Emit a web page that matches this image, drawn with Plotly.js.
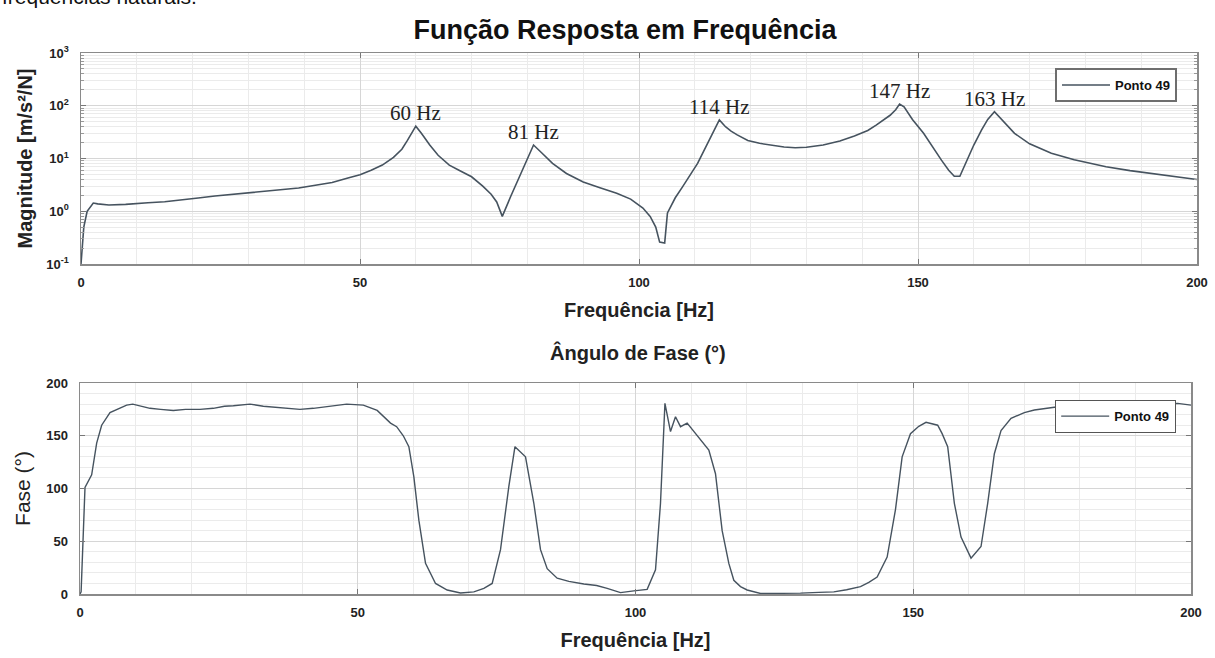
<!DOCTYPE html>
<html>
<head>
<meta charset="utf-8">
<script src="https://cdn.plot.ly/plotly-3.0.1.min.js"></script>
<style>html,body{margin:0;padding:0;background:#fff;}#chart{width:1215px;height:658px;}</style>
</head>
<body>
<div id="chart"></div>
<script>
// ---- Data ----
const seriesName = 'Ponto 49';

const magFreq = [0, 0.5, 1.1, 2.2, 3.0, 5, 8, 10, 12, 15, 18, 21, 24, 27, 30, 33, 36, 39, 42, 45, 48, 50, 52, 54, 56, 57.5, 58.5, 59.5, 60, 61, 62.5, 64, 66, 68, 70, 72, 73.5, 74.5, 75.5, 77, 78.5, 80, 81.1, 82.5, 84.5, 87, 90, 93, 96, 98.5, 100.7, 102, 103, 103.7, 104.6, 105.1, 106.5, 107.8, 109, 110.5, 112, 113.5, 114.4, 115.5, 116.5, 117.6, 119.5, 121.6, 124, 126, 128, 130, 133, 136, 138.6, 141, 142.5, 144, 145, 146, 146.7, 147.5, 149, 151, 152.5, 154.2, 155.5, 156.5, 157.5, 158.8, 160, 161.4, 162.5, 163.7, 165, 167.3, 170, 173.9, 178, 183.7, 188, 193.5, 200];
const magVal = [0.1, 0.5, 1.0, 1.43, 1.38, 1.31, 1.35, 1.38, 1.45, 1.51, 1.62, 1.78, 1.95, 2.1, 2.25, 2.4, 2.6, 2.75, 3.1, 3.5, 4.3, 4.9, 6.0, 7.5, 10.5, 15, 22, 33, 41, 30, 18, 11.5, 7.5, 5.8, 4.5, 3.0, 2.1, 1.5, 0.8, 1.9, 4.3, 9.8, 18, 13, 8.1, 5.2, 3.6, 2.8, 2.2, 1.7, 1.15, 0.8, 0.5, 0.26, 0.25, 0.93, 1.8, 2.9, 4.6, 8.1, 16.8, 35, 54, 40, 33, 28, 22, 19.4, 17.5, 16.5, 16, 16.3, 18, 21.5, 26.7, 34, 43, 55, 66, 84, 108, 95, 55, 30, 17, 9.3, 6, 4.6, 4.6, 9.3, 18, 35, 55, 77, 55, 30, 19, 12.6, 9.5, 7, 5.9, 4.9, 4.0];

const phaseFreq = [0, 0.2, 0.9, 2.1, 3, 3.9, 5.4, 7, 8.4, 9.5, 11, 12.6, 14.5, 16.8, 19, 21.6, 24, 26, 27.6, 30.6, 33, 36.6, 39.6, 42, 45, 48, 51, 53.5, 55.9, 57, 58.2, 59.2, 60.1, 61, 62.2, 64, 66.1, 68.5, 70.9, 72.7, 74.2, 75.7, 77.2, 78.3, 80.2, 81.7, 82.9, 84.1, 85.9, 88, 90.7, 93, 94.9, 97.3, 99.7, 102.1, 103.6, 104.5, 105.3, 106.3, 107.2, 108.1, 109.3, 111.1, 113.2, 114.4, 114.9, 115.6, 116.8, 117.7, 118.9, 120.1, 122.5, 126, 129.7, 133, 135.7, 138, 140.5, 142, 143.5, 145.3, 146.8, 148, 149.5, 151, 152.3, 154.4, 155.2, 156.2, 157.4, 158.6, 160.4, 162.2, 163.4, 164.6, 165.8, 167.6, 170, 171.8, 175.4, 180, 185, 190, 195, 197.6, 200];
const phaseVal = [0, 2, 101, 113, 143, 160, 172, 176, 179, 180, 178, 176, 175, 174, 175, 175, 176, 178, 178.5, 180, 178, 176, 175, 176, 178, 180, 179, 174, 162, 158.6, 150, 139.6, 111, 70, 29, 10, 3.8, 1, 2, 5.4, 10, 42, 102, 139.6, 130, 86, 42, 24, 15, 12, 9.5, 8, 5.4, 1.3, 3, 4.4, 23, 86, 180.7, 154, 168, 158.6, 162, 150.7, 136.5, 114, 92, 60, 29, 13, 7, 3.8, 0.5, 0.5, 0.8, 1.5, 2, 4, 7, 11, 16, 35, 80, 130, 152, 159, 162.7, 160, 152, 139.6, 86, 54, 34, 45, 86, 133, 155, 166.5, 172, 174.4, 177, 178, 178, 179, 180, 180.7, 179];

const peakFreqs = [60, 81.1, 114.4, 146.7, 163.7];
const peakLabels = ['60 Hz', '81 Hz', '114 Hz', '147 Hz', '163 Hz'];

const xTicks = [0, 50, 100, 150, 200];
const magTickVals = [0.1, 1, 10, 100, 1000];
const magTickText = ['10<sup>-1</sup>', '10<sup>0</sup>', '10<sup>1</sup>', '10<sup>2</sup>', '10<sup>3</sup>'];
const phaseTicks = [0, 50, 100, 150, 200];

// ---- Styles ----
const W = 1215, H = 658;
const lineColor = '#46535f';
const sans = 'Liberation Sans, Arial, sans-serif';
const tickFont = {family: sans, size: 13, color: '#222', weight: 'bold'};
const frame = {showline: true, mirror: 'ticks', linecolor: '#8a8a8a', linewidth: 1.5,
  ticks: 'inside', ticklen: 5, tickcolor: '#777', tickwidth: 1, zeroline: false,
  gridcolor: '#d6d6d6', gridwidth: 1, tickfont: tickFont, automargin: false};

function px(v) { return v / W; }
function py(v) { return 1 - v / H; }

const traces = [
  {x: magFreq, y: magVal, type: 'scatter', mode: 'lines', name: seriesName,
   line: {color: lineColor, width: 1.6}, xaxis: 'x', yaxis: 'y', legend: 'legend'},
  {x: phaseFreq, y: phaseVal, type: 'scatter', mode: 'lines', name: seriesName,
   line: {color: lineColor, width: 1.4}, xaxis: 'x2', yaxis: 'y2', legend: 'legend2'}
];

const peakAnn = peakFreqs.map((f, i) => {
  const idx = magFreq.indexOf(f);
  return {x: f, y: Math.log10(magVal[idx]), xref: 'x', yref: 'y', text: peakLabels[i],
    showarrow: false, xanchor: 'center', yanchor: 'bottom', yshift: -1,
    font: {family: 'Liberation Serif, Times New Roman, serif', size: 21, color: '#222'}};
});

const layout = {
  width: W, height: H,
  margin: {l: 0, r: 0, t: 0, b: 0},
  paper_bgcolor: '#fff', plot_bgcolor: '#fff',
  showlegend: true,
  title: {text: '<b>Função Resposta em Frequência</b>', x: px(625), y: py(30),
    xanchor: 'center', yanchor: 'middle', xref: 'paper', yref: 'paper',
    font: {family: sans, size: 27, color: '#111'}},
  xaxis: Object.assign({}, frame, {domain: [px(81), px(1197)], range: [0, 200],
    tickvals: xTicks, anchor: 'y', ticklabelstandoff: 6,
    minor: {dtick: 10, showgrid: true, gridcolor: '#ebebeb', ticks: ''},
    title: {text: '<b>Frequência [Hz]</b>', standoff: 14, font: {family: sans, size: 20, color: '#222'}}}),
  yaxis: Object.assign({}, frame, {domain: [py(264), py(53)], type: 'log', range: [-1, 3],
    tickvals: magTickVals, ticktext: magTickText, anchor: 'x', ticklabelstandoff: 8,
    minor: {dtick: 'D1', showgrid: true, gridcolor: '#ebebeb', ticks: 'inside', ticklen: 3, tickcolor: '#999'},
    title: {text: '<b>Magnitude [m/s²/N]</b>', standoff: 8, font: {family: sans, size: 20, color: '#222'}}}),
  xaxis2: Object.assign({}, frame, {domain: [px(80), px(1191)], range: [0, 200],
    tickvals: xTicks, anchor: 'y2', ticklabelstandoff: 6,
    minor: {dtick: 10, showgrid: true, gridcolor: '#ebebeb', ticks: ''},
    title: {text: '<b>Frequência [Hz]</b>', standoff: 14, font: {family: sans, size: 20, color: '#222'}}}),
  yaxis2: Object.assign({}, frame, {domain: [py(594), py(383)], range: [0, 200],
    tickvals: phaseTicks, anchor: 'x2', ticklabelstandoff: 8,
    minor: {dtick: 10, showgrid: true, gridcolor: '#ebebeb', ticks: ''},
    title: {text: 'Fase (°)', standoff: 10, font: {family: sans, size: 21, color: '#222'}}}),
  legend: {x: px(1055), y: py(68), xanchor: 'left', yanchor: 'top', bgcolor: '#fff',
    bordercolor: '#6e6e6e', borderwidth: 2, itemwidth: 48,
    font: {family: sans, size: 13, color: '#111', weight: 'bold'}},
  legend2: {x: px(1055), y: py(400), xanchor: 'left', yanchor: 'top', bgcolor: '#fff',
    bordercolor: '#555', borderwidth: 1.2, itemwidth: 48,
    font: {family: sans, size: 13, color: '#111', weight: 'bold'}},
  annotations: peakAnn.concat([
    {text: '<b>Ângulo de Fase (°)</b>', x: px(638), y: py(352), xref: 'paper', yref: 'paper',
     showarrow: false, xanchor: 'center', yanchor: 'middle',
     font: {family: sans, size: 20, color: '#222'}},
    {text: 'frequências naturais.', x: 0, y: py(10), xref: 'paper', yref: 'paper',
     showarrow: false, xanchor: 'left', yanchor: 'bottom',
     font: {family: sans, size: 21, color: '#111'}}
  ])
};

Plotly.newPlot('chart', traces, layout, {displayModeBar: false, staticPlot: true});
</script>
</body>
</html>
